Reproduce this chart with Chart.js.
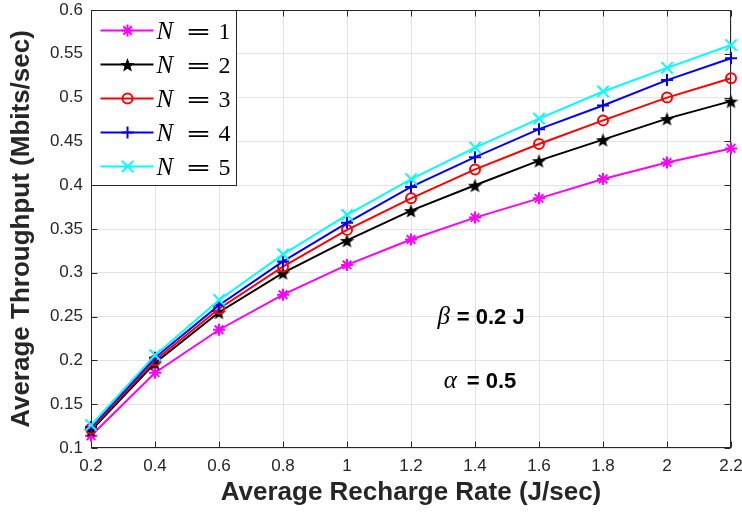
<!DOCTYPE html>
<html lang="en">
<head>
<meta charset="utf-8">
<title>Average Throughput vs. Average Recharge Rate</title>
<script src="https://cdn.jsdelivr.net/npm/chart.js@4.4.1/dist/chart.umd.min.js"></script>
<style>
  html, body { margin: 0; padding: 0; background: #fff; }
  #wrap { width: 742px; height: 517px; }
</style>
</head>
<body>
<div id="wrap"><canvas id="durchsatzChart" width="742" height="517"></canvas></div>
<script>
'use strict';

// Werte (Mbits/sec je Laderate)
const ladeRaten   = [0.2, 0.4, 0.6, 0.8, 1.0, 1.2, 1.4, 1.6, 1.8, 2.0, 2.2];
const durchsatzN1 = [0.114, 0.186, 0.235, 0.275, 0.309, 0.338, 0.363, 0.385, 0.407, 0.426, 0.442];
const durchsatzN2 = [0.120, 0.197, 0.255, 0.300, 0.337, 0.371, 0.400, 0.428, 0.452, 0.476, 0.496];
const durchsatzN3 = [0.122, 0.200, 0.259, 0.307, 0.349, 0.385, 0.418, 0.447, 0.474, 0.500, 0.522];
const durchsatzN4 = [0.124, 0.203, 0.263, 0.313, 0.357, 0.398, 0.432, 0.464, 0.491, 0.520, 0.545];
const durchsatzN5 = [0.126, 0.206, 0.269, 0.321, 0.366, 0.407, 0.443, 0.476, 0.507, 0.534, 0.560];

const serienNamen = ['1', '2', '3', '4', '5'];

// Achsenbeschriftung
const xTickWerte = [0.2, 0.4, 0.6, 0.8, 1, 1.2, 1.4, 1.6, 1.8, 2, 2.2];
const yTickWerte = [0.1, 0.15, 0.2, 0.25, 0.3, 0.35, 0.4, 0.45, 0.5, 0.55, 0.6];

const TEXT_FARBE = '#262626';
const SANS  = '"Liberation Sans", Arial, sans-serif';
const SERIF = '"Liberation Serif", "Times New Roman", serif';

// Pentagramm als Marker (gibt es in Chart.js nicht)
function pentagramm(groesse, farbe) {
  const c = document.createElement('canvas');
  c.width = groesse;
  c.height = groesse;
  const ctx = c.getContext('2d');
  const m = groesse / 2;
  const rAussen = groesse / 2;
  const rInnen  = rAussen * 0.42;
  ctx.beginPath();
  for (let i = 0; i < 10; i++) {
    const r = i % 2 === 0 ? rAussen : rInnen;
    const w = -Math.PI / 2 + i * Math.PI / 5;
    const px = m + r * Math.cos(w);
    const py = m + 1 + r * Math.sin(w);
    if (i === 0) ctx.moveTo(px, py); else ctx.lineTo(px, py);
  }
  ctx.closePath();
  ctx.fillStyle = farbe;
  ctx.fill();
  return c;
}

// Linienstile wie im MATLAB-Original
const stile = [
  { farbe: '#ff00ff', marker: 'star',     radius: 6 },
  { farbe: '#000000', marker: pentagramm(15, '#000000'), radius: 7 },
  { farbe: '#ff0000', marker: 'circle',   radius: 5 },
  { farbe: '#0000ff', marker: 'cross',    radius: 6 },
  { farbe: '#00ffff', marker: 'crossRot', radius: 8 },
];

// Textanmerkungen im Diagramm (Position in Datenkoordinaten)
const anmerkungen = [
  { symbol: 'β', symbolX: 1.322, text: '= 0.2 J', textX: 1.343, y: 0.241 },
  { symbol: 'α', symbolX: 1.343, text: '= 0.5',   textX: 1.374, y: 0.169 },
];

const reihen = [durchsatzN1, durchsatzN2, durchsatzN3, durchsatzN4, durchsatzN5];

const datasets = reihen.map((werte, i) => ({
  label:            'N = ' + serienNamen[i],
  data:             ladeRaten.map((x, j) => ({ x, y: werte[j] })),
  borderColor:      stile[i].farbe,
  backgroundColor:  'rgba(0,0,0,0)',
  pointBorderColor: stile[i].farbe,
  pointBackgroundColor: 'rgba(0,0,0,0)',
  pointStyle:       stile[i].marker,
  pointRadius:      stile[i].radius,
  pointBorderWidth: 2,
  borderWidth:      2,
  tension:          0,
  clip:             false,
  order:            reihen.length - i,   // N = 5 liegt oben
}));

// ------------------------------------------------------------------
// Rahmen mit innenliegenden Ticks (alle vier Seiten)
// ------------------------------------------------------------------
const rahmenPlugin = {
  id: 'rahmen',
  beforeDatasetsDraw(chart) {
    const { ctx, chartArea: a, scales: { x, y } } = chart;
    const l = Math.round(a.left) + 0.5, r = Math.round(a.right) - 0.5;
    const t = Math.round(a.top) + 0.5,  b = Math.round(a.bottom) - 0.5;
    ctx.save();
    ctx.strokeStyle = TEXT_FARBE;
    ctx.lineWidth = 1;
    ctx.beginPath();
    xTickWerte.forEach(v => {
      const px = Math.round(x.getPixelForValue(v)) + 0.5;
      ctx.moveTo(px, b); ctx.lineTo(px, b - 6);
      ctx.moveTo(px, t); ctx.lineTo(px, t + 6);
    });
    yTickWerte.forEach(v => {
      const py = Math.round(y.getPixelForValue(v)) + 0.5;
      ctx.moveTo(l, py); ctx.lineTo(l + 6, py);
      ctx.moveTo(r, py); ctx.lineTo(r - 6, py);
    });
    ctx.stroke();
    ctx.strokeRect(l, t, r - l, b - t);
    ctx.restore();
  },
};

// ------------------------------------------------------------------
// Legende oben links im Plotbereich + Anmerkungen
// ------------------------------------------------------------------
const legendePlugin = {
  id: 'legende',
  afterDatasetsDraw(chart) {
    const { ctx, chartArea: a, scales: { x, y } } = chart;
    const l = Math.round(a.left) + 0.5, t = Math.round(a.top) + 0.5;
    ctx.save();
    ctx.fillStyle = '#ffffff';
    ctx.fillRect(l, t, 145, 175);
    ctx.strokeStyle = TEXT_FARBE;
    ctx.lineWidth = 1;
    ctx.strokeRect(l, t, 145, 175);

    datasets.forEach((ds, i) => {
      const zy = t + 20 + i * 34;
      ctx.strokeStyle = ds.borderColor;
      ctx.lineWidth = 2;
      ctx.beginPath();
      ctx.moveTo(l + 9, zy);
      ctx.lineTo(l + 62, zy);
      ctx.stroke();
      ctx.fillStyle = ds.pointBackgroundColor;
      Chart.helpers.drawPoint(ctx, {
        pointStyle: ds.pointStyle, radius: ds.pointRadius,
        borderWidth: 2, rotation: 0,
      }, l + 36, zy);

      // "N = k" im LaTeX-Stil
      ctx.fillStyle = '#000000';
      ctx.textBaseline = 'alphabetic';
      ctx.textAlign = 'left';
      ctx.font = 'italic 25px ' + SERIF;
      ctx.fillText('N', l + 65, zy + 8);
      ctx.save();
      ctx.translate(l + 94, zy + 8);
      ctx.scale(1.35, 1);
      ctx.font = '23px "DejaVu Serif", serif';
      ctx.fillText('=', 0, 0);
      ctx.restore();
      ctx.font = '24px ' + SERIF;
      ctx.fillText(serienNamen[i], l + 127, zy + 8);
    });

    // Parameter-Texte
    ctx.fillStyle = '#000000';
    anmerkungen.forEach(an => {
      const py = y.getPixelForValue(an.y);
      ctx.textAlign = 'right';
      ctx.font = 'italic 25px ' + SERIF;
      ctx.fillText(an.symbol, x.getPixelForValue(an.symbolX), py);
      ctx.textAlign = 'left';
      ctx.font = 'bold 22px ' + SANS;
      ctx.fillText(an.text, x.getPixelForValue(an.textX), py);
    });
    ctx.restore();
  },
};

new Chart(document.getElementById('durchsatzChart'), {
  type: 'line',
  data: { datasets },
  options: {
    responsive: false,
    animation: false,
    devicePixelRatio: 1,
    layout: { padding: { left: 0, right: 11, top: 5, bottom: 0 } },
    plugins: {
      legend:  { display: false },
      tooltip: { enabled: false },
    },
    scales: {
      x: {
        type: 'linear',
        min: 0.2,
        max: 2.2,
        afterBuildTicks(scale) {
          scale.ticks = xTickWerte.map(v => ({ value: v }));
        },
        afterFit(scale) {
          scale.height = 69;
          scale.paddingLeft = 0;
          scale.paddingRight = 0;
        },
        grid:   { color: '#e3e3e3', lineWidth: 1, drawTicks: false },
        border: { display: false },
        ticks: {
          color: TEXT_FARBE,
          font: { family: SANS, size: 17 },
          padding: 8,
          maxRotation: 0,
          autoSkip: false,
          callback: v => String(v),
        },
        title: {
          display: true,
          text: 'Average Recharge Rate (J/sec)',
          color: TEXT_FARBE,
          font: { family: SANS, size: 26, weight: 'bold' },
          padding: { top: 0, bottom: 9 },
        },
      },
      y: {
        min: 0.1,
        max: 0.6,
        afterBuildTicks(scale) {
          scale.ticks = yTickWerte.map(v => ({ value: v }));
        },
        afterFit(scale) {
          scale.width = 91;
          scale.paddingTop = 0;
          scale.paddingBottom = 0;
        },
        grid:   { color: '#e3e3e3', lineWidth: 1, drawTicks: false },
        border: { display: false },
        ticks: {
          color: TEXT_FARBE,
          font: { family: SANS, size: 17 },
          padding: 8,
          autoSkip: false,
          callback: v => String(v),
        },
        title: {
          display: true,
          text: 'Average Throughput (Mbits/sec)',
          color: TEXT_FARBE,
          font: { family: SANS, size: 26, weight: 'bold' },
          padding: { top: 6, bottom: 0 },
        },
      },
    },
  },
  plugins: [rahmenPlugin, legendePlugin],
});
</script>
</body>
</html>
